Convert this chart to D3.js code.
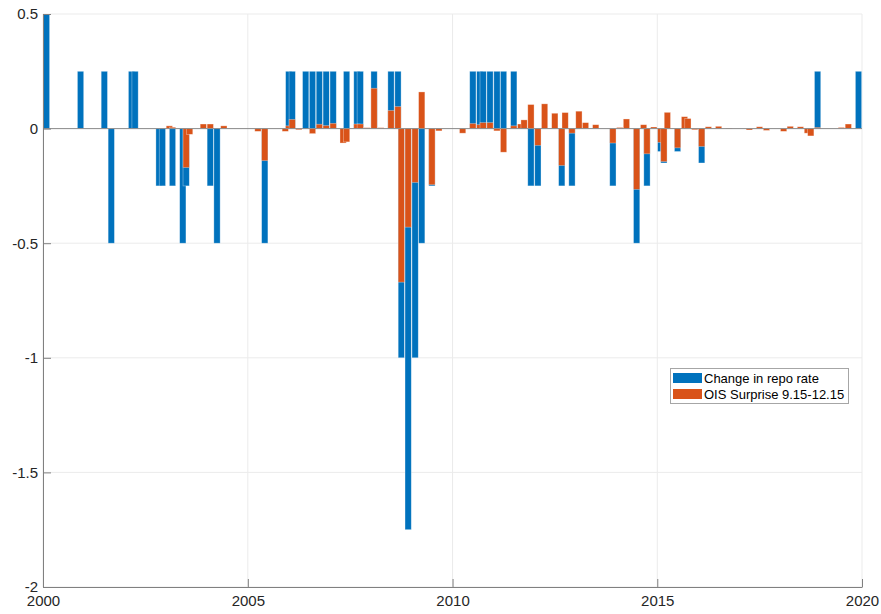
<!DOCTYPE html>
<html>
<head>
<meta charset="utf-8">
<script src="https://cdn.jsdelivr.net/npm/d3@7"></script>
<style>
body { margin: 0; background: #fff; }
text { font-family: "Liberation Sans", Arial, Helvetica, sans-serif; }
</style>
</head>
<body>
<div id="chart"></div>
<script>
// months of repo rate decisions and the change (percentage points)
var repoMonths = ["2000-02","2000-12","2001-07","2001-09","2002-03","2002-04","2002-11","2002-12",
  "2003-03","2003-06","2003-07","2004-02","2004-04","2005-06","2006-01","2006-02","2006-06",
  "2006-08","2006-10","2006-12","2007-02","2007-06","2007-09","2007-10","2008-02","2008-07",
  "2008-09","2008-10","2008-12","2009-02","2009-04","2009-07","2010-07","2010-09","2010-10",
  "2010-12","2011-02","2011-04","2011-07","2011-12","2012-02","2012-09","2012-12","2013-12",
  "2014-07","2014-10","2015-02","2015-03","2015-07","2016-02","2018-12","2019-12"];
var repoChange = [0.5, 0.25, 0.25, -0.5, 0.25, 0.25, -0.25, -0.25,
  -0.25, -0.5, -0.25, -0.25, -0.5, -0.5, 0.25, 0.25, 0.25,
  0.25, 0.25, 0.25, 0.25, 0.25, 0.25, 0.25, 0.25, 0.25,
  0.25, -1.0, -1.75, -1.0, -0.5, -0.25, 0.25, 0.25, 0.25,
  0.25, 0.25, 0.25, 0.25, -0.25, -0.25, -0.25, -0.25, -0.25,
  -0.5, -0.25, -0.1, -0.15, -0.1, -0.15, 0.25, 0.25];

// OIS surprise 9.15-12.15
var oisMonths = ["2003-02","2003-03","2003-07","2003-08","2003-12","2004-02","2004-06","2005-04",
  "2005-06","2005-12","2006-01","2006-02","2006-04","2006-08","2006-10","2006-12","2007-02",
  "2007-05","2007-06","2007-09","2007-10","2007-12","2008-02","2008-04","2008-07","2008-09",
  "2008-10","2008-12","2009-02","2009-04","2009-07","2009-09","2010-04","2010-07","2010-09",
  "2010-10","2010-12","2011-02","2011-04","2011-07","2011-09","2011-10","2011-12","2012-02",
  "2012-04","2012-07","2012-09","2012-10","2012-12","2013-02","2013-04","2013-07","2013-12",
  "2014-02","2014-04","2014-07","2014-09","2014-10","2014-12","2015-02","2015-03","2015-04",
  "2015-07","2015-09","2015-10","2015-12","2016-02","2016-04","2016-07","2016-10","2017-04",
  "2017-07","2017-09","2018-02","2018-04","2018-07","2018-09","2018-10","2018-12","2019-07",
  "2019-09"];
var oisSurprise = [0.012, 0.006, -0.17, -0.025, 0.02, 0.02, 0.012, -0.012,
  -0.14, -0.012, 0.012, 0.04, -0.005, -0.022, 0.019, 0.013, 0.023,
  -0.063, -0.058, 0.02, 0.02, 0.004, 0.176, 0.004, 0.079, 0.096,
  -0.67, -0.43, -0.235, 0.16, -0.245, -0.01, -0.02, 0.022, 0.017,
  0.026, 0.026, -0.01, -0.103, 0.012, 0.02, 0.038, 0.105, -0.073,
  0.108, 0.067, -0.161, 0.07, -0.02, 0.076, 0.026, 0.017, -0.063,
  0.005, 0.042, -0.265, 0.017, -0.11, 0.007, -0.06, -0.144, 0.071,
  -0.084, 0.052, 0.044, -0.005, -0.078, 0.008, 0.01, 0.002, -0.006,
  0.008, -0.008, -0.012, 0.01, 0.008, -0.02, -0.032, 0.005, 0.005,
  0.02];

var xTickYears = [2000, 2005, 2010, 2015, 2020];
var yTicks = [-2, -1.5, -1, -0.5, 0, 0.5];
var seriesNames = ["Change in repo rate", "OIS Surprise 9.15-12.15"];

var blue = "#0072BD";
var orange = "#D95319";

var width = 881;
var height = 614;
var plotLeft = 43, plotRight = 862, plotTop = 14, plotBottom = 587;

var parseMonth = d3.timeParse("%Y-%m");

var repo = repoMonths.map(function(m, i) { return { date: parseMonth(m), value: repoChange[i] }; });
var ois = oisMonths.map(function(m, i) { return { date: parseMonth(m), value: oisSurprise[i] }; });

/* Scales */
var x = d3.scaleTime()
  .domain([new Date(xTickYears[0], 0, 1), new Date(xTickYears[xTickYears.length - 1], 0, 1)])
  .range([plotLeft, plotRight]);

var y = d3.scaleLinear()
  .domain([-2, 0.5])
  .range([plotBottom, plotTop]);

var start = new Date(2000, 0, 1);
var barW = x(d3.timeDay.offset(start, 56)) - x(start);

var svg = d3.select("#chart").append("svg")
  .attr("width", width)
  .attr("height", height);

/* grid */
svg.append("g")
  .selectAll("line")
  .data(xTickYears).enter()
  .append("line")
  .attr("x1", d => x(new Date(d, 0, 1)))
  .attr("x2", d => x(new Date(d, 0, 1)))
  .attr("y1", plotTop)
  .attr("y2", plotBottom)
  .attr("stroke", "#ebebeb")
  .attr("stroke-width", 1);

svg.append("g")
  .selectAll("line")
  .data(yTicks).enter()
  .append("line")
  .attr("x1", plotLeft)
  .attr("x2", plotRight)
  .attr("y1", d => y(d))
  .attr("y2", d => y(d))
  .attr("stroke", "#ebebeb")
  .attr("stroke-width", 1);

/* bars */
function drawBars(data, color) {
  svg.append("g")
    .selectAll("rect")
    .data(data).enter()
    .append("rect")
    .attr("x", d => x(d.date) - barW / 2)
    .attr("y", d => y(Math.max(0, d.value)))
    .attr("width", barW)
    .attr("height", d => Math.abs(y(d.value) - y(0)))
    .attr("fill", color)
    .attr("stroke", "#ffffff")
    .attr("stroke-opacity", 0.45)
    .attr("stroke-width", 0.7);
}
drawBars(repo, blue);
drawBars(ois, orange);

/* zero baseline */
svg.append("line")
  .attr("x1", plotLeft)
  .attr("x2", plotRight)
  .attr("y1", y(0))
  .attr("y2", y(0))
  .attr("stroke", "#8c8c8c")
  .attr("stroke-width", 1);

/* axes */
var xAxis = d3.axisBottom(x)
  .tickValues(xTickYears.map(d => new Date(d, 0, 1)))
  .tickFormat(d3.timeFormat("%Y"))
  .tickSizeInner(-8)
  .tickSizeOuter(0)
  .tickPadding(8);

var yAxis = d3.axisLeft(y)
  .tickValues(yTicks)
  .tickFormat(d => String(d))
  .tickSizeInner(-8)
  .tickSizeOuter(0)
  .tickPadding(5);

var gx = svg.append("g")
  .attr("transform", `translate(0, ${plotBottom})`)
  .call(xAxis);

var gy = svg.append("g")
  .attr("transform", `translate(${plotLeft}, 0)`)
  .call(yAxis);

[gx, gy].forEach(function(g) {
  g.select(".domain").attr("stroke", "#808080");
  g.selectAll(".tick line").attr("stroke", "#808080");
  g.selectAll(".tick text")
    .attr("fill", "#262626")
    .style("font-size", "15px")
    .style("font-family", '"Liberation Sans", Arial, Helvetica, sans-serif');
});

/* legend */
var legend = svg.append("g");
legend.append("rect")
  .attr("x", 670.5)
  .attr("y", 368.5)
  .attr("width", 178)
  .attr("height", 35)
  .attr("fill", "#fff")
  .attr("stroke", "#a6a6a6")
  .attr("stroke-width", 1);

var colors = [blue, orange];
seriesNames.forEach(function(name, i) {
  legend.append("rect")
    .attr("x", 673)
    .attr("y", 373 + i * 16)
    .attr("width", 29)
    .attr("height", 10)
    .attr("fill", colors[i]);
  legend.append("text")
    .attr("x", 704)
    .attr("y", 382.5 + i * 16)
    .attr("fill", "#000")
    .style("font-size", "13px")
    .text(name);
});
</script>
</body>
</html>
